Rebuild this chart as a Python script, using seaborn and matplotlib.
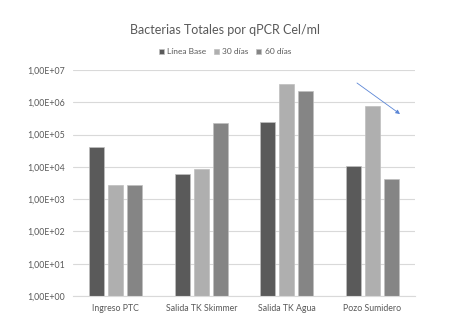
import matplotlib
matplotlib.use("Agg")
import matplotlib.pyplot as plt
from matplotlib.ticker import FixedLocator, FuncFormatter, NullLocator
import seaborn as sns
import pandas as pd
import numpy as np

# Data: total bacteria by qPCR (cells/ml)
sitios = ["Ingreso PTC", "Salida TK Skimmer", "Salida TK Agua", "Pozo Sumidero"]
series = ["Línea Base", "30 días", "60 días"]
linea_base = [4.2e4, 5.8e3, 2.4e5, 1.1e4]
dias_30 = [2.7e3, 8.7e3, 3.6e6, 7.9e5]
dias_60 = [2.8e3, 2.3e5, 2.3e6, 4.2e3]
y_ticks = [1e0, 1e1, 1e2, 1e3, 1e4, 1e5, 1e6, 1e7]

df = pd.DataFrame({
    "sitio": sitios * 3,
    "serie": [series[0]] * 4 + [series[1]] * 4 + [series[2]] * 4,
    "valor": linea_base + dias_30 + dias_60,
})

sns.set_theme(style="white")
plt.rcParams["font.family"] = ["Lato", "DejaVu Sans"]

text_color = "#595959"
palette = ["#5A5A5A", "#AFAFAF", "#858585"]

fig = plt.figure(figsize=(4.5, 3.31), dpi=100)
ax = fig.add_axes([73 / 450, 1 - 296 / 331, (415 - 73) / 450, (296 - 70) / 331])

sns.barplot(data=df, x="sitio", y="valor", hue="serie", palette=palette,
            width=0.667, gap=0.22, edgecolor="#BFBFBF", linewidth=0.5,
            errorbar=None, ax=ax)

ax.set_yscale("log")
ax.set_ylim(1e0, 1e7)
ax.set_xlim(-0.5, 3.5)
ax.yaxis.set_major_locator(FixedLocator(y_ticks))
ax.yaxis.set_minor_locator(NullLocator())
ax.yaxis.set_major_formatter(FuncFormatter(
    lambda v, p: "1,00E+{:02d}".format(int(round(np.log10(v))))))
ax.grid(axis="y", color="#D9D9D9", linewidth=0.8)
ax.set_axisbelow(True)
for s in ["top", "right", "left"]:
    ax.spines[s].set_visible(False)
ax.spines["bottom"].set_color("#D9D9D9")
ax.spines["bottom"].set_linewidth(0.8)
ax.tick_params(axis="both", length=0, labelsize=6.3, colors=text_color, pad=6)
ax.set_xlabel("")
ax.set_ylabel("")

handles, labels = ax.get_legend_handles_labels()
ax.get_legend().remove()
fig.legend(handles, labels, loc="center", bbox_to_anchor=(0.5, 1 - 52 / 331), ncol=3,
           frameon=False, fontsize=6.0, labelcolor=text_color, handlelength=0.6,
           handleheight=0.6, columnspacing=0.9, handletextpad=0.4)

fig.text(0.5, 1 - 30 / 331, "Bacterias Totales por qPCR Cel/ml", ha="center", va="center",
         fontsize=9, color=text_color)

# Downward trend arrow
ax.annotate("", xy=(400 / 450, 1 - 114 / 331), xytext=(357 / 450, 1 - 83 / 331),
            xycoords="figure fraction", textcoords="figure fraction",
            arrowprops=dict(arrowstyle="-|>", color="#5B86D6", lw=0.6,
                            mutation_scale=6, shrinkA=0, shrinkB=0))

fig.savefig("out.png", dpi=100, facecolor="white")
